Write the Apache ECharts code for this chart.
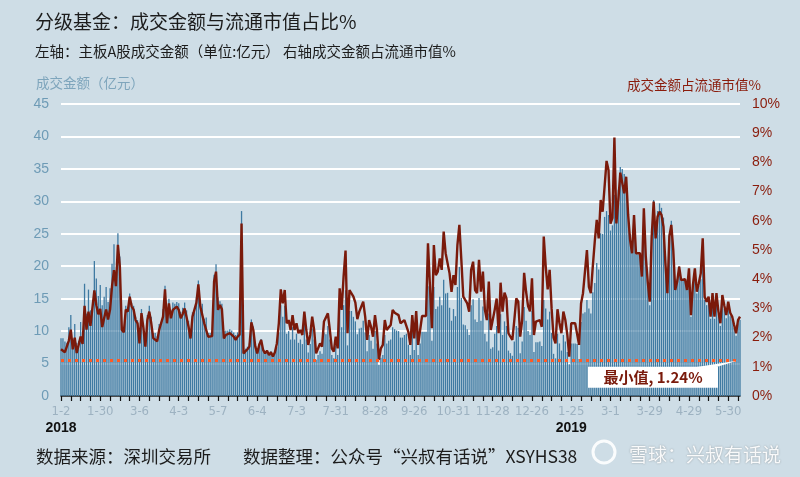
<!DOCTYPE html>
<html>
<head>
<meta charset="utf-8">
<title>分级基金：成交金额与流通市值占比</title>
<script src="https://cdn.jsdelivr.net/npm/echarts/dist/echarts.min.js"></script>
<style>
  html, body { margin: 0; padding: 0; background: #cedde6; }
  #chart { width: 800px; height: 477px; }
</style>
</head>
<body>
<div id="chart"></div>
<script>
// trading calendar (SZSE), weekday closures
const startDate = '2018-01-02';
const endDate = '2019-06-10';
const holidays = [
  '2018-01-01', '2018-02-15', '2018-02-16', '2018-02-19', '2018-02-20', '2018-02-21',
  '2018-04-05', '2018-04-06', '2018-04-30', '2018-05-01', '2018-06-18', '2018-09-24',
  '2018-10-01', '2018-10-02', '2018-10-03', '2018-10-04', '2018-10-05', '2018-12-31',
  '2019-01-01', '2019-02-04', '2019-02-05', '2019-02-06', '2019-02-07', '2019-02-08',
  '2019-04-05', '2019-05-01', '2019-05-02', '2019-05-03', '2019-06-07'
];

// 成交金额（亿元）
const turnover = [
  8.9, 8.9, 8.4, 8.2, 10.6, 12.5, 8.9, 11.1, 8.2, 8.5,
  11.4, 9.9, 17.3, 12.7, 16.4, 13.2, 13.4, 20.8, 18.1, 15.4,
  17.1, 14.0, 15.3, 16.8, 14.5, 16.6, 20.4, 23.4, 18.5, 25.1,
  21.5, 10.7, 10.3, 13.9, 13.7, 15.8, 14.3, 13.9, 12.2, 11.7,
  8.5, 13.4, 11.0, 8.0, 12.5, 13.9, 12.2, 9.7, 9.7, 9.2,
  11.1, 11.1, 13.4, 17.0, 12.3, 15.0, 13.2, 14.4, 14.2, 14.5,
  14.3, 13.0, 13.6, 14.4, 13.2, 11.6, 9.6, 12.9, 12.9, 15.2,
  17.8, 14.6, 14.2, 11.9, 12.1, 9.7, 9.7, 9.8, 18.7, 20.3,
  15.2, 14.6, 14.2, 10.0, 10.1, 10.1, 10.3, 10.1, 9.8, 9.4,
  9.8, 10.1, 28.5, 7.0, 7.3, 7.6, 8.1, 11.8, 10.7, 8.1,
  7.0, 8.1, 8.8, 7.3, 6.7, 7.1, 6.4, 6.9, 6.2, 6.9,
  7.5, 9.8, 14.0, 12.2, 13.9, 9.6, 10.0, 8.7, 10.6, 8.7,
  9.6, 8.2, 8.7, 8.0, 11.1, 8.7, 6.7, 8.0, 10.4, 8.7,
  5.6, 6.3, 6.9, 6.5, 9.8, 9.5, 10.8, 8.7, 6.3, 5.8,
  7.8, 6.3, 13.3, 10.6, 14.0, 16.3, 7.8, 13.1, 13.1, 12.2,
  11.5, 9.5, 10.4, 10.5, 11.6, 9.8, 6.9, 9.4, 8.5, 7.3,
  10.0, 8.1, 4.8, 5.9, 6.3, 9.4, 8.1, 8.5, 8.7, 10.6,
  10.3, 10.1, 10.0, 9.0, 9.0, 9.4, 9.6, 7.9, 6.3, 10.0,
  7.1, 10.5, 6.3, 8.1, 9.9, 9.9, 9.9, 16.9, 16.8, 8.5,
  16.8, 13.4, 13.8, 15.3, 14.0, 17.9, 15.8, 15.9, 13.6, 11.6,
  13.4, 12.3, 16.8, 19.9, 15.1, 11.0, 10.9, 10.3, 9.4, 14.0,
  14.9, 11.8, 11.4, 15.1, 11.6, 13.8, 9.6, 8.4, 12.7, 7.3,
  7.5, 9.6, 10.8, 7.0, 12.6, 9.4, 11.5, 10.8, 7.0, 6.6,
  6.2, 8.4, 10.8, 10.5, 6.6, 8.4, 13.7, 11.6, 10.0, 9.4,
  13.1, 6.8, 8.3, 8.3, 8.4, 7.7, 14.8, 13.5, 11.8, 13.0,
  9.7, 6.5, 5.8, 9.6, 8.1, 7.0, 9.4, 8.4, 6.8, 4.9,
  8.1, 8.1, 8.1, 8.0, 5.7, 11.4, 12.7, 12.9, 14.8, 13.5,
  12.7, 16.0, 17.4, 20.5, 19.5, 25.1, 25.0, 27.6, 28.5, 27.9,
  25.5, 26.3, 31.0, 27.0, 31.8, 35.3, 35.0, 34.2, 33.5, 29.0,
  25.0, 22.8, 27.5, 22.2, 21.8, 21.5, 18.5, 28.2, 21.5, 17.0,
  14.0, 24.6, 30.2, 25.0, 28.5, 29.7, 29.0, 27.5, 21.5, 16.5,
  25.0, 27.0, 23.0, 16.8, 18.0, 20.0, 18.0, 17.8, 18.0, 16.5,
  19.5, 12.2, 16.8, 19.0, 15.8, 17.0, 18.0, 22.0, 14.8, 14.0,
  14.6, 11.9, 15.0, 11.9, 15.0, 12.6, 10.8, 14.8, 13.4, 12.0,
  13.9, 12.3, 11.8, 10.5, 9.3, 11.2, 11.7
];

// 成交金额占流通市值（%）
const ratioPct = [
  1.60, 1.60, 1.50, 1.47, 1.90, 2.27, 1.60, 2.00, 1.47, 1.52,
  2.04, 1.78, 3.09, 2.27, 2.89, 2.40, 2.44, 3.62, 3.11, 2.80,
  2.98, 2.36, 2.67, 2.96, 2.62, 2.96, 3.76, 4.31, 3.76, 5.18,
  4.42, 2.27, 2.18, 2.96, 2.89, 3.40, 3.07, 2.96, 2.60, 2.49,
  1.80, 2.84, 2.33, 1.69, 2.60, 2.89, 2.49, 1.98, 1.98, 1.87,
  2.26, 2.26, 2.72, 3.65, 2.49, 3.17, 2.66, 2.95, 2.89, 3.06,
  2.95, 2.66, 2.80, 3.00, 2.70, 2.37, 1.97, 2.72, 2.72, 3.20,
  3.82, 3.06, 3.00, 2.49, 2.55, 2.03, 2.03, 2.05, 3.92, 4.26,
  2.95, 3.12, 2.97, 1.97, 2.09, 2.09, 2.15, 2.10, 2.03, 1.92,
  2.03, 2.10, 5.91, 1.46, 1.52, 1.60, 1.69, 2.52, 2.26, 1.70,
  1.46, 1.75, 1.92, 1.58, 1.46, 1.55, 1.40, 1.50, 1.35, 1.50,
  1.80, 2.49, 3.65, 3.17, 3.63, 2.49, 2.60, 2.26, 2.77, 2.26,
  2.49, 2.15, 2.26, 2.09, 2.89, 2.26, 1.75, 2.09, 2.72, 2.26,
  1.46, 1.63, 1.80, 1.69, 2.55, 2.49, 2.83, 2.26, 1.63, 1.52,
  2.03, 1.63, 3.69, 2.95, 4.09, 4.98, 2.15, 3.63, 3.63, 3.40,
  3.20, 2.63, 2.89, 2.92, 3.23, 2.72, 1.92, 2.60, 2.37, 2.03,
  2.77, 2.26, 1.24, 1.63, 1.75, 2.60, 2.26, 2.35, 2.43, 2.95,
  2.85, 2.81, 2.77, 2.49, 2.49, 2.60, 2.66, 2.20, 1.75, 2.77,
  1.97, 2.91, 1.75, 2.26, 2.74, 2.74, 2.74, 5.23, 5.20, 2.32,
  5.17, 4.14, 4.26, 4.71, 4.32, 5.63, 4.89, 4.90, 4.20, 3.57,
  4.14, 3.80, 5.17, 5.86, 4.66, 3.40, 3.37, 3.17, 2.89, 4.32,
  4.60, 3.63, 3.52, 4.66, 3.57, 4.26, 2.95, 2.60, 3.92, 2.26,
  2.32, 2.95, 3.34, 2.15, 3.88, 2.89, 3.54, 3.34, 2.15, 2.03,
  1.92, 2.60, 3.34, 3.23, 2.03, 2.60, 4.22, 3.57, 3.08, 2.90,
  4.03, 2.09, 2.55, 2.55, 2.60, 2.37, 5.46, 4.43, 3.65, 4.32,
  3.00, 2.00, 1.80, 2.97, 2.50, 2.15, 2.89, 2.60, 2.10, 1.35,
  2.49, 2.49, 2.49, 2.47, 1.75, 3.17, 3.52, 3.57, 5.00, 3.74,
  3.52, 4.45, 5.30, 6.03, 5.40, 6.71, 6.31, 7.17, 8.05, 7.74,
  5.90, 6.10, 8.85, 5.91, 6.71, 7.65, 7.60, 6.94, 7.51, 6.20,
  5.34, 4.89, 6.20, 4.89, 4.83, 4.89, 4.09, 6.43, 4.77, 3.90,
  3.23, 5.46, 6.66, 5.40, 6.14, 6.31, 6.20, 5.80, 4.54, 3.52,
  5.46, 5.86, 5.00, 3.63, 3.92, 4.43, 3.97, 3.92, 4.00, 3.63,
  4.37, 2.77, 3.80, 4.37, 3.57, 3.86, 4.20, 5.40, 3.40, 3.23,
  3.40, 2.72, 3.52, 2.72, 3.52, 2.90, 2.49, 3.46, 3.10, 2.77,
  3.23, 2.85, 2.72, 2.43, 2.15, 2.60, 2.72
];

const leftTicks = [0, 45, 5];   // min, max, step
const rightTicks = [0, 10, 1];

function tradingDays(start, end, closed) {
  const out = [];
  const d = new Date(start + 'T00:00:00Z');
  const last = new Date(end + 'T00:00:00Z');
  while (d <= last) {
    const iso = d.toISOString().slice(0, 10);
    const wd = d.getUTCDay();
    if (wd !== 0 && wd !== 6 && closed.indexOf(iso) < 0) out.push(iso);
    d.setUTCDate(d.getUTCDate() + 1);
  }
  return out;
}

const dates = tradingDays(startDate, endDate, holidays);
const minVal = Math.min.apply(null, ratioPct);

const cjk = '"Noto Sans CJK SC", "Noto Sans", sans-serif';
const num = '"Liberation Sans", Arial, sans-serif';

const chart = echarts.init(document.getElementById('chart'));

const option = {
  animation: false,
  backgroundColor: '#cedde6',
  title: [
    { text: '分级基金：成交金额与流通市值占比%', left: 30, top: 7,
      textStyle: { fontFamily: cjk, fontSize: 19, fontWeight: 'normal', color: '#1c1c1c' } },
    { text: '左轴：主板A股成交金额（单位:亿元） 右轴成交金额占流通市值%', left: 30, top: 39,
      textStyle: { fontFamily: cjk, fontSize: 14.5, fontWeight: 'normal', color: '#1c1c1c' } },
    { text: '成交金额（亿元）', left: 31, top: 71,
      textStyle: { fontFamily: cjk, fontSize: 13.5, fontWeight: 'normal', color: '#7ea5bc' } },
    { text: '成交金额占流通市值%', right: 34, top: 73,
      textStyle: { fontFamily: cjk, fontSize: 13.5, fontWeight: 'normal', color: '#8a1c0c' } },
    { text: '数据来源：深圳交易所', left: 31, top: 443,
      textStyle: { fontFamily: cjk, fontSize: 17.5, fontWeight: 'normal', color: '#1c1c1c' } },
    { text: '数据整理：公众号“兴叔有话说”XSYHS38', left: 238, top: 443,
      textStyle: { fontFamily: cjk, fontSize: 17.5, fontWeight: 'normal', color: '#1c1c1c' } },
    { text: '雪球：兴叔有话说', left: 624, top: 440,
      textStyle: { fontFamily: cjk, fontSize: 19, fontWeight: 'normal', color: 'rgba(255,255,255,0.92)',
        textShadowColor: 'rgba(60,60,60,0.45)', textShadowBlur: 2 } }
  ],
  grid: { left: 61, right: 60, top: 104, bottom: 81 },
  xAxis: {
    type: 'category',
    data: dates,
    boundaryGap: false,
    axisLine: { lineStyle: { color: '#111', width: 1.5 } },
    axisTick: { show: true, interval: 4, length: 5, lineStyle: { color: '#111', width: 1.2 } },
    axisLabel: {
      interval: 19,
      margin: 7,
      formatter: function (value, idx) {
        const parts = value.split('-');
        const label = '{d|' + (+parts[1]) + '-' + (+parts[2]) + '}';
        const newYear = idx === 0 || dates[idx - 20].slice(0, 4) !== parts[0];
        return newYear ? label + '\n{y|' + parts[0] + '}' : label;
      },
      rich: {
        d: { fontFamily: '"Liberation Sans Narrow", "DejaVu Sans Condensed", sans-serif', fontSize: 13, color: '#9db2c1', lineHeight: 17 },
        y: { fontFamily: num, fontSize: 14, fontWeight: 'bold', color: '#111', lineHeight: 17 }
      }
    },
    splitLine: { show: false }
  },
  yAxis: [
    {
      type: 'value', min: leftTicks[0], max: leftTicks[1], interval: leftTicks[2],
      axisLine: { show: false }, axisTick: { show: false },
      axisLabel: { fontFamily: num, fontSize: 14, color: '#6e9bb6', margin: 12 },
      splitLine: { lineStyle: { color: '#ffffff', width: 2 } }
    },
    {
      type: 'value', min: rightTicks[0], max: rightTicks[1], interval: rightTicks[2],
      axisLine: { show: false }, axisTick: { show: false },
      axisLabel: { fontFamily: num, fontSize: 14, color: '#8a1c0c', margin: 12, formatter: '{value}%' },
      splitLine: { show: false }
    }
  ],
  series: [
    {
      name: '成交金额', type: 'bar', yAxisIndex: 0, data: turnover,
      barWidth: 1.3, itemStyle: { color: '#3f7aa2' }, z: 2
    },
    {
      name: '成交金额占流通市值', type: 'line', yAxisIndex: 1, data: ratioPct,
      symbol: 'none', lineStyle: { color: '#7a1a0b', width: 2.4 }, z: 4,
      markLine: {
        silent: true, symbol: ['none', 'none'], label: { show: false },
        lineStyle: { color: '#ff5b24', type: [3, 4], width: 3 },
        data: [{ yAxis: minVal }]
      }
    }
  ]
};

chart.setOption(option);

// callout box for the minimum, anchored to the right end of the min line
const yMin = chart.convertToPixel({ yAxisIndex: 1 }, minVal);
const xEnd = chart.convertToPixel({ xAxisIndex: 0 }, dates[dates.length - 1]);
chart.setOption({
  graphic: [
    { type: 'circle', z: 10, silent: true,
      shape: { cx: 604, cy: 452, r: 11 },
      style: { fill: 'none', stroke: 'rgba(255,255,255,0.9)', lineWidth: 3 } },
    { type: 'polygon', z: 10, silent: true,
      shape: { points: [[xEnd - 48, yMin + 8], [xEnd - 26, yMin + 8], [xEnd - 3, yMin + 1]] },
      style: { fill: '#ffffff' } },
    { type: 'rect', z: 10, silent: true,
      shape: { x: xEnd - 152, y: yMin + 7, width: 130, height: 21 },
      style: { fill: '#ffffff' } },
    { type: 'text', z: 11, silent: true,
      x: xEnd - 87, y: yMin + 17.5,
      style: { text: '最小值, ' + minVal.toFixed(2) + '%', fill: '#7a1a0b', align: 'center', verticalAlign: 'middle',
        font: 'bold 15px "Noto Sans CJK SC", sans-serif' } }
  ]
});
</script>
</body>
</html>
